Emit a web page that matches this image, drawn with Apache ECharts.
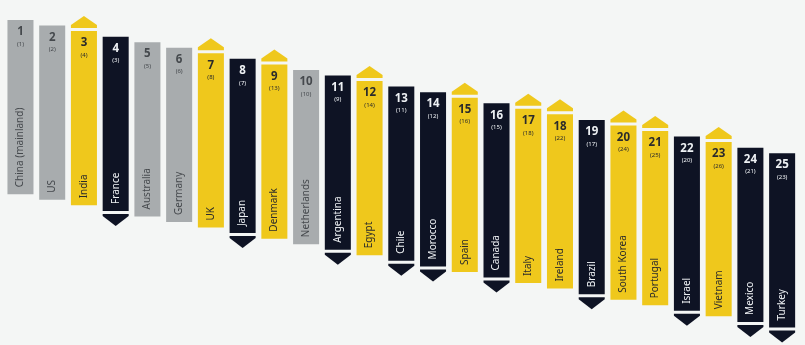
<!DOCTYPE html>
<html>
<head>
<meta charset="utf-8">
<script src="https://cdn.jsdelivr.net/npm/echarts@6/dist/echarts.min.js"></script>
<style>
  html, body { margin: 0; padding: 0; background: #f4f6f5; }
  #chart { width: 805px; height: 345px; }
</style>
</head>
<body>
<div id="chart"></div>
<script>
// Country ranking: current rank, previous rank (in brackets) and country name
const countries = ['China (mainland)', 'US', 'India', 'France', 'Australia', 'Germany', 'UK', 'Japan',
  'Denmark', 'Netherlands', 'Argentina', 'Egypt', 'Chile', 'Morocco', 'Spain', 'Canada', 'Italy',
  'Ireland', 'Brazil', 'South Korea', 'Portugal', 'Israel', 'Vietnam', 'Mexico', 'Turkey'];
const ranks = [1, 2, 3, 4, 5, 6, 7, 8, 9, 10, 11, 12, 13, 14, 15, 16, 17, 18, 19, 20, 21, 22, 23, 24, 25];
const prevRanks = [1, 2, 4, 3, 5, 6, 8, 7, 13, 10, 9, 14, 11, 12, 16, 15, 18, 22, 17, 24, 25, 20, 26, 21, 23];

// Length of every column, in rank units along the value axis
const BAR_SPAN = 31.4;

const COLORS = {
  up: '#efc81c',
  down: '#0e1324',
  same: '#a8acae'
};
const TEXT = {
  up: '#2b2b2b',
  down: '#eef1f4',
  same: '#45494d'
};

const data = ranks.map((r, i) => [i, r, prevRanks[i]]);

function renderItem(params, api) {
  const idx = api.value(0);
  const rank = api.value(1);
  const prev = api.value(2);
  const move = rank < prev ? 'up' : (rank > prev ? 'down' : 'same');
  const color = COLORS[move];
  const tc = TEXT[move];

  const topPt = api.coord([idx, rank]);
  const botPt = api.coord([idx, rank + BAR_SPAN]);
  const cx = topPt[0];
  const w = api.size([1, 0])[0] * 0.82;
  const L = cx - w / 2, R = cx + w / 2;
  const T = topPt[1], B = botPt[1];

  const children = [
    { type: 'rect', shape: { x: L, y: T, width: w, height: B - T }, style: { fill: color } },
    { type: 'text', x: cx, y: T + 12,
      style: { text: String(rank), fill: tc, font: 'bold 11.5px "Noto Sans", sans-serif', align: 'center', verticalAlign: 'middle' } },
    { type: 'text', x: cx, y: T + 24,
      style: { text: '(' + prev + ')', fill: tc, font: '6px "Noto Sans", sans-serif', align: 'center', verticalAlign: 'middle' } },
    { type: 'text', x: cx, y: B - 7, rotation: Math.PI / 2,
      style: { text: countries[idx], fill: tc, font: '10px "Noto Sans", sans-serif', align: 'left', verticalAlign: 'middle' } }
  ];

  if (move === 'up') {
    children.push({ type: 'polygon',
      shape: { points: [[L, T - 3], [R, T - 3], [R, T - 6], [cx, T - 15], [L, T - 6]] },
      style: { fill: color } });
  } else if (move === 'down') {
    children.push({ type: 'polygon',
      shape: { points: [[L, B + 3], [R, B + 3], [R, B + 5], [cx, B + 15], [L, B + 5]] },
      style: { fill: color } });
  }
  return { type: 'group', children };
}

const chart = echarts.init(document.getElementById('chart'), null, { renderer: 'canvas' });
chart.setOption({
  backgroundColor: '#f4f6f5',
  animation: false,
  grid: { left: 4.6, right: 7, top: 14.45, bottom: 8.65 },
  xAxis: { type: 'category', data: countries, show: false },
  yAxis: { type: 'value', inverse: true, min: 0, max: 58, show: false },
  series: [{
    type: 'custom',
    clip: false,
    renderItem,
    encode: { x: 0, y: 1 },
    data
  }]
});
</script>
</body>
</html>
